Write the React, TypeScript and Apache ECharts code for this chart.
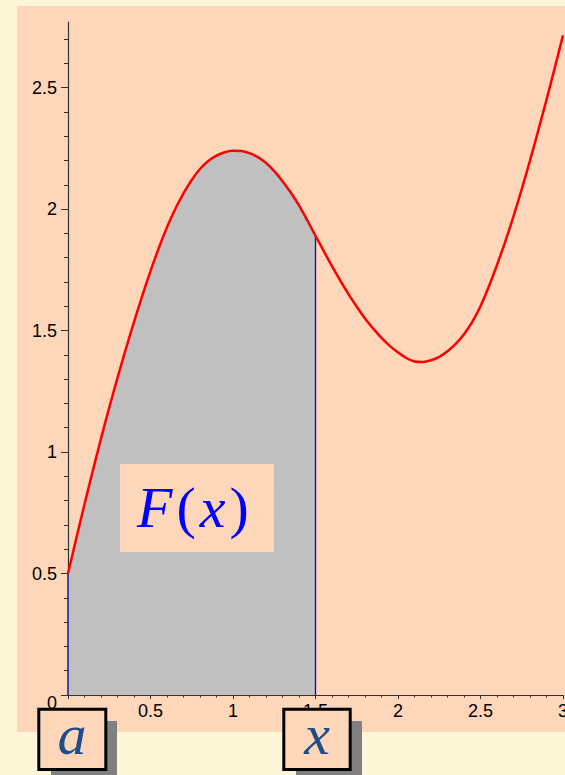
import React, { useEffect, useRef } from "react";
import * as echarts from "echarts";

const xValues = [
  0, 0.05, 0.1, 0.15, 0.2, 0.25, 0.3, 0.35, 0.4, 0.45, 0.5, 0.55, 0.6, 0.65, 0.7, 0.75, 0.8, 0.85, 0.9, 0.95,
  1.0, 1.05, 1.1, 1.15, 1.2, 1.25, 1.3, 1.35, 1.4, 1.45, 1.5, 1.55, 1.6, 1.65, 1.7, 1.75, 1.8, 1.85, 1.9, 1.95,
  2.0, 2.05, 2.1, 2.15, 2.2, 2.25, 2.3, 2.35, 2.4, 2.45, 2.5, 2.55, 2.6, 2.65, 2.7, 2.75, 2.8, 2.85, 2.9, 2.95, 3.0,
];
const fValues = [
  0.5, 0.644, 0.785, 0.922, 1.055, 1.183, 1.305, 1.423, 1.535, 1.643, 1.745, 1.839, 1.925, 2.0, 2.065, 2.12, 2.165, 2.198, 2.22, 2.234,
  2.24, 2.239, 2.23, 2.214, 2.19, 2.156, 2.115, 2.068, 2.015, 1.954, 1.89, 1.827, 1.765, 1.706, 1.65, 1.598, 1.55, 1.508, 1.47, 1.437,
  1.41, 1.387, 1.373, 1.371, 1.378, 1.392, 1.415, 1.445, 1.485, 1.536, 1.6, 1.68, 1.77, 1.866, 1.97, 2.082, 2.2, 2.323, 2.45, 2.581, 2.715,
];
const aValue = 0;
const xMarker = 1.5;
const yMajorTicks = [0, 0.5, 1, 1.5, 2, 2.5];
const yMinorTicks = [0, 0.1, 0.2, 0.3, 0.4, 0.5, 0.6, 0.7, 0.8, 0.9, 1, 1.1, 1.2, 1.3, 1.4, 1.5, 1.6, 1.7, 1.8, 1.9, 2, 2.1, 2.2, 2.3, 2.4, 2.5, 2.6, 2.7];
const xMajorTicks = [0, 0.5, 1, 1.5, 2, 2.5, 3];
const xTickLabels = [0.5, 1, 1.5, 2, 2.5, 3];
const yMax = 2.77;

const PEACH = "#fed6ba";
const YELLOW = "#fef7d7";
const AXIS = "#333333";
const LABEL_FONT = "Liberation Sans";
const MATH_FONT = "Liberation Serif";

export default function App() {
  const ref = useRef<HTMLDivElement>(null);
  useEffect(() => {
    document.body.style.margin = "0";
    if (!ref.current) return;
    const chart = echarts.init(ref.current, null, { renderer: "svg" });
    const curve = xValues.map((x, i) => [x, fValues[i]]);
    const area = curve.filter((p) => p[0] <= xMarker + 1e-9);
    const fAtMarker = fValues[xValues.findIndex((x) => Math.abs(x - xMarker) < 1e-9)];
    const fAtA = fValues[xValues.findIndex((x) => Math.abs(x - aValue) < 1e-9)];

    chart.setOption({
      animation: false,
      backgroundColor: YELLOW,
      grid: { left: 68, right: 2, top: 22, bottom: 80, containLabel: false, outerBoundsMode: "none" },
      xAxis: {
        type: "value",
        min: 0,
        max: 3,
        interval: 0.5,
        splitLine: { show: false },
        axisLine: { show: true, onZero: false, lineStyle: { color: AXIS, width: 1.2 } },
        axisTick: { show: true, customValues: xMajorTicks, length: 4, lineStyle: { color: AXIS } },
        minorTick: { show: true, splitNumber: 5, length: 2.5, lineStyle: { color: AXIS } },
        axisLabel: {
          customValues: xTickLabels,
          fontSize: 18,
          fontFamily: LABEL_FONT,
          color: "#000",
          margin: 7,
          hideOverlap: false,
        },
      },
      yAxis: [
        {
          type: "value",
          min: 0,
          max: yMax,
          splitLine: { show: false },
          axisLine: { show: true, onZero: false, lineStyle: { color: AXIS, width: 1.2 } },
          axisTick: { show: true, customValues: yMinorTicks, length: 4, lineStyle: { color: AXIS } },
          axisLabel: { show: false },
        },
        {
          type: "value",
          min: 0,
          max: yMax,
          position: "left",
          offset: 0,
          splitLine: { show: false },
          axisLine: { show: false },
          axisTick: { show: true, customValues: yMajorTicks, length: 7, lineStyle: { color: AXIS } },
          axisLabel: {
            customValues: yMajorTicks,
            fontSize: 18,
            fontFamily: LABEL_FONT,
            color: "#000",
            margin: 11,
            formatter: (v: number) => (v === 0 ? "{z|0}" : String(v)),
            rich: {
              z: { fontSize: 18, fontFamily: LABEL_FONT, color: "#000", padding: [16, 0, 0, 0] },
            },
          },
        },
      ],
      series: [
        {
          type: "line",
          data: area,
          smooth: 0.3,
          symbol: "none",
          lineStyle: { width: 0 },
          areaStyle: { color: "#c0c0c0", opacity: 1 },
          z: 1,
        },
        {
          type: "line",
          data: [[xMarker, 0], [xMarker, fAtMarker]],
          symbol: "none",
          lineStyle: { color: "#0000ff", width: 1.3 },
          z: 2,
        },
        {
          type: "line",
          data: [[aValue, 0], [aValue, fAtA]],
          symbol: "none",
          lineStyle: { color: "#1a1a9a", width: 1.5 },
          z: 3,
        },
        {
          type: "line",
          data: curve,
          smooth: 0.3,
          symbol: "none",
          lineStyle: { color: "#ff0000", width: 2.5 },
          z: 4,
        },
      ],
      graphic: [
        { type: "rect", z: -10, shape: { x: 17, y: 6, width: 548, height: 726 }, style: { fill: PEACH } },
        { type: "rect", z: 10, shape: { x: 120, y: 464, width: 154, height: 88 }, style: { fill: PEACH } },
        {
          type: "text",
          z: 11,
          x: 193,
          y: 507,
          style: {
            text: "{i|F}{n|(}{i|x}{n|)}",
            align: "center",
            verticalAlign: "middle",
            rich: {
              i: { fontStyle: "italic", fontFamily: MATH_FONT, fontSize: 58, fill: "#0000ff", padding: [0, 2, 0, 2] },
              n: { fontFamily: MATH_FONT, fontSize: 58, fill: "#0000ff", padding: [0, 2, 0, 2] },
            },
          },
        },
        { type: "rect", z: 20, shape: { x: 51, y: 721, width: 66, height: 60 }, style: { fill: "#808080" } },
        {
          type: "rect",
          z: 21,
          shape: { x: 38.8, y: 709.2, width: 67, height: 60.3 },
          style: { fill: PEACH, stroke: "#000", lineWidth: 3 },
        },
        {
          type: "text",
          z: 22,
          x: 72,
          y: 734,
          style: {
            text: "a",
            align: "center",
            verticalAlign: "middle",
            fontStyle: "italic",
            fontFamily: MATH_FONT,
            fontSize: 58,
            fill: "#1d4e89",
          },
        },
        { type: "rect", z: 20, shape: { x: 296, y: 721, width: 66, height: 60 }, style: { fill: "#808080" } },
        {
          type: "rect",
          z: 21,
          shape: { x: 283.8, y: 709.2, width: 66.4, height: 60.3 },
          style: { fill: PEACH, stroke: "#000", lineWidth: 3 },
        },
        {
          type: "text",
          z: 22,
          x: 317,
          y: 734,
          style: {
            text: "x",
            align: "center",
            verticalAlign: "middle",
            fontStyle: "italic",
            fontFamily: MATH_FONT,
            fontSize: 58,
            fill: "#1d4e89",
          },
        },
      ],
    });
    return () => chart.dispose();
  }, []);
  return <div ref={ref} style={{ width: 565, height: 775 }} />;
}
